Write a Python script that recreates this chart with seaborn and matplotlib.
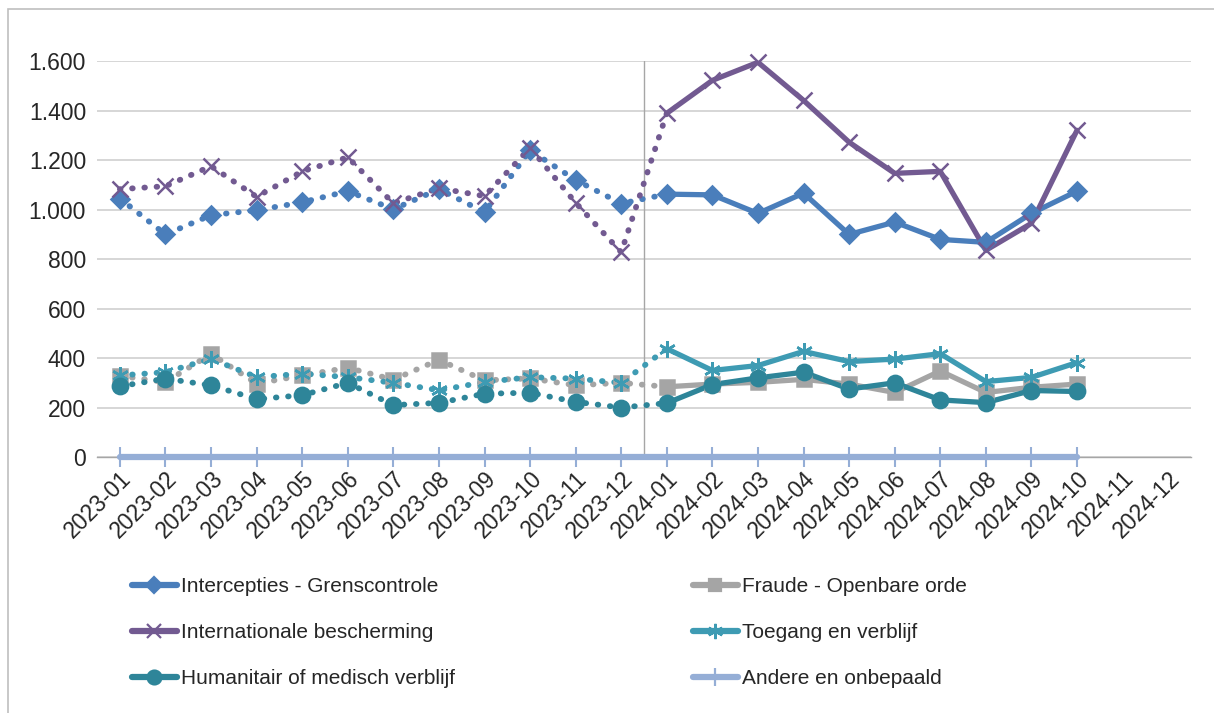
import pandas as pd
import matplotlib
matplotlib.use("Agg")
import matplotlib.pyplot as plt
from matplotlib.lines import Line2D
from matplotlib.patches import Rectangle
from matplotlib.ticker import FuncFormatter
import seaborn as sns

sns.set_theme(style='white')
plt.rcParams['font.family'] = ['Liberation Sans', 'DejaVu Sans']

# months on the axis (24 slots, data for the first 22)
months = ['2023-01', '2023-02', '2023-03', '2023-04', '2023-05', '2023-06',
          '2023-07', '2023-08', '2023-09', '2023-10', '2023-11', '2023-12',
          '2024-01', '2024-02', '2024-03', '2024-04', '2024-05', '2024-06',
          '2024-07', '2024-08', '2024-09', '2024-10', '2024-11', '2024-12']

intercepties = [1045, 900, 978, 998, 1030, 1075, 1002, 1083, 990, 1240, 1120, 1025,
                1063, 1060, 985, 1067, 900, 950, 880, 868, 985, 1075]
internationale = [1083, 1095, 1176, 1052, 1155, 1212, 1026, 1087, 1055, 1250, 1028, 828,
                  1390, 1523, 1596, 1442, 1273, 1147, 1155, 836, 945, 1321]
fraude = [328, 303, 417, 297, 330, 361, 313, 393, 310, 318, 290, 300,
          284, 295, 302, 314, 295, 261, 348, 261, 282, 295]
toegang = [330, 343, 397, 323, 337, 323, 300, 270, 303, 323, 317, 300,
           438, 350, 370, 427, 386, 396, 418, 305, 322, 382]
humanitair = [286, 317, 290, 234, 250, 300, 210, 219, 256, 260, 223, 200,
              218, 293, 320, 343, 275, 300, 231, 220, 269, 265]
andere = [2, 2, 2, 2, 2, 2, 2, 2, 2, 2, 2, 2,
          2, 2, 2, 2, 2, 2, 2, 2, 2, 2]

series = [
    ('Intercepties - Grenscontrole', intercepties, '#4A7EBB', 'D', 9, False),
    ('Fraude - Openbare orde', fraude, '#A5A5A5', 's', 10, False),
    ('Internationale bescherming', internationale, '#725A91', 'x', 11, False),
    ('Toegang en verblijf', toegang, '#3E9BB3', (6, 2, 0), 12, False),
    ('Humanitair of medisch verblijf', humanitair, '#2E8599', 'o', 11, False),
    ('Andere en onbepaald', andere, '#95AED6', '|', 15, True),
]

fig = plt.figure(figsize=(12.14, 7.13), dpi=100)
ax = fig.add_axes([0.080, 0.359, 0.901, 0.555])

dotted = (0, (0.1, 2.0))
handles = {}
for name, vals, col, mk, ms, solid_all in series:
    df = pd.DataFrame({'x': range(len(vals)), 'y': vals})
    first = df.iloc[:13]
    second = df.iloc[12:]
    if solid_all:
        sns.lineplot(data=df, x='x', y='y', ax=ax, color=col, lw=4.5, marker=mk,
                     markersize=ms, markeredgewidth=1.5, markeredgecolor=col,
                     clip_on=False, zorder=3)
    else:
        sns.lineplot(data=first, x='x', y='y', ax=ax, color=col, lw=4.2,
                     linestyle=dotted, dash_capstyle='round', marker=None, zorder=3)
        sns.lineplot(data=second, x='x', y='y', ax=ax, color=col, lw=3.8,
                     marker=None, zorder=3)
        ax.plot(df['x'], df['y'], ls='none', marker=mk, ms=ms, color=col,
                mec=col, mew=1.8, clip_on=False, zorder=4)
    handles[name] = Line2D([], [], color=col, lw=4.5, marker=mk,
                           ms=ms - 1 if mk != '|' else 13, mec=col, mew=1.6)

ax.axvline(11.5, color='#A6A6A6', lw=1, zorder=1)

ax.set_xlim(-0.5, len(months) - 0.5)
ax.set_ylim(0, 1600)
ax.set_yticks(range(0, 1601, 200))
ax.yaxis.set_major_formatter(FuncFormatter(lambda v, p: f'{int(v):,}'.replace(',', '.')))
ax.set_xticks(range(len(months)))
ax.set_xticklabels(months, rotation=45, ha='right', rotation_mode='anchor')
ax.set_xticks([i - 0.5 for i in range(len(months) + 1)], minor=True)
ax.tick_params(axis='x', which='major', length=0, pad=7, labelsize=16.5)
ax.tick_params(axis='x', which='minor', length=6, width=1, color='#A6A6A6', direction='out')
ax.tick_params(axis='y', length=0, pad=8, labelsize=16.5)
ax.set_xlabel('')
ax.set_ylabel('')
ax.grid(axis='y', color='#D0D0D0', lw=1.2)
ax.set_axisbelow(True)
for s in ['left', 'right', 'top']:
    ax.spines[s].set_visible(False)
ax.spines['bottom'].set_color('#A6A6A6')
ax.spines['bottom'].set_linewidth(1)

left_names = ['Intercepties - Grenscontrole', 'Internationale bescherming',
              'Humanitair of medisch verblijf']
right_names = ['Fraude - Openbare orde', 'Toegang en verblijf', 'Andere en onbepaald']
leg_kw = dict(frameon=False, loc='upper left', fontsize=15, handlelength=2.15,
              handletextpad=0.2, labelspacing=1.3, borderaxespad=0, borderpad=0)
fig.legend([handles[n] for n in left_names], left_names,
           bbox_to_anchor=(132 / 1214, 1 - 577 / 713), **leg_kw)
fig.legend([handles[n] for n in right_names], right_names,
           bbox_to_anchor=(693 / 1214, 1 - 577 / 713), **leg_kw)

fig.patches.append(Rectangle((8 / 1214, -0.1), 1.2, 1 - 9 / 713 + 0.1,
                             transform=fig.transFigure, fill=False,
                             edgecolor='#BFBFBF', lw=1.2))

plt.savefig('out.png', dpi=100)
